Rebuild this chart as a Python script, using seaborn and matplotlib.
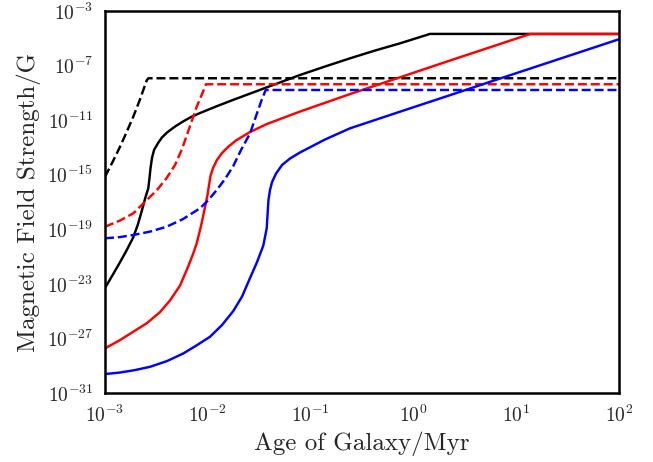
import numpy as np
import pandas as pd
import matplotlib
matplotlib.use("Agg")
import matplotlib.pyplot as plt
import matplotlib.ticker as mticker
import seaborn as sns

# curves, as log10(age / Myr) and log10(B / G)
black_solid_lx = [-3.0, -2.932, -2.864, -2.796, -2.725, -2.679, -2.64, -2.606, -2.579, -2.567, -2.557,
                  -2.543, -2.523, -2.484, -2.446, -2.397, -2.319, -2.241, -2.163, -2.076, -1.92, -1.755,
                  -1.424, -1.103, -0.86, -0.617, -0.374, -0.13, 0.161, 2.0]
black_solid_ly = [-23.31, -22.43, -21.55, -20.63, -19.59, -18.62, -17.59, -16.64, -16.0, -15.24, -14.51,
                  -13.78, -13.19, -12.68, -12.27, -11.91, -11.47, -11.1, -10.77, -10.48, -10.0, -9.52,
                  -8.59, -7.69, -7.07, -6.47, -5.9, -5.37, -4.68, -4.68]

black_dash_lx = [-3.0, -2.95, -2.9, -2.854, -2.8, -2.725, -2.66, -2.595, -2.578, 2.0]
black_dash_ly = [-15.15, -14.42, -13.67, -12.95, -12.05, -10.75, -9.49, -8.1, -7.93, -7.93]

red_solid_lx = [-3.0, -2.854, -2.725, -2.591, -2.465, -2.368, -2.27, -2.193, -2.144, -2.108, -2.066,
                -2.027, -2.003, -1.988, -1.974, -1.949, -1.911, -1.862, -1.804, -1.726, -1.589, -1.424,
                -1.103, -0.617, -0.13, 0.356, 1.134, 2.0]
red_solid_ly = [-27.73, -27.12, -26.51, -25.87, -25.07, -24.22, -23.12, -21.77, -20.82, -20.03, -18.76,
                -17.37, -16.49, -15.76, -15.1, -14.51, -13.92, -13.41, -12.97, -12.49, -11.87, -11.28,
                -10.37, -9.09, -7.86, -6.63, -4.69, -4.69]

red_dash_lx = [-3.0, -2.854, -2.725, -2.594, -2.494, -2.4, -2.319, -2.251, -2.173, -2.108, -2.056, -2.018, 2.0]
red_dash_ly = [-18.81, -18.36, -17.83, -16.86, -16.12, -15.24, -14.29, -13.12, -11.43, -10.02, -9.09, -8.37, -8.37]

blue_solid_lx = [-3.0, -2.854, -2.708, -2.562, -2.397, -2.238, -2.105, -1.979, -1.862, -1.752, -1.667,
                 -1.589, -1.521, -1.46, -1.427, -1.419, -1.41, -1.395, -1.375, -1.336, -1.278, -1.2,
                 -1.103, -0.86, -0.617, -0.13, 0.356, 0.842, 1.329, 2.0]
blue_solid_ly = [-29.61, -29.5, -29.32, -29.08, -28.66, -28.1, -27.49, -26.88, -26.02, -24.99, -23.93,
                 -22.57, -21.4, -20.19, -18.93, -17.96, -16.86, -16.12, -15.54, -14.91, -14.29, -13.81,
                 -13.37, -12.42, -11.6, -10.38, -9.17, -7.95, -6.74, -5.07]

blue_dash_lx = [-3.0, -2.854, -2.725, -2.562, -2.4, -2.241, -2.076, -1.998, -1.913, -1.833, -1.752,
                -1.677, -1.589, -1.524, -1.476, -1.437, 2.0]
blue_dash_ly = [-19.66, -19.57, -19.42, -19.17, -18.81, -18.25, -17.46, -16.89, -16.12, -15.32, -14.36,
                -13.19, -11.97, -10.55, -9.52, -8.79, -8.79]

curves = [
    (black_solid_lx, black_solid_ly, "k", "-"),
    (black_dash_lx, black_dash_ly, "k", "--"),
    (red_solid_lx, red_solid_ly, "r", "-"),
    (red_dash_lx, red_dash_ly, "r", "--"),
    (blue_solid_lx, blue_solid_ly, "b", "-"),
    (blue_dash_lx, blue_dash_ly, "b", "--"),
]

sns.set_style("white")
plt.rcParams["font.family"] = "serif"
plt.rcParams["font.serif"] = ["cmr10"]
plt.rcParams["mathtext.fontset"] = "cm"
plt.rcParams["axes.formatter.use_mathtext"] = True
plt.rcParams["axes.unicode_minus"] = False

fig = plt.figure(figsize=(6.53, 4.62), dpi=100)
ax = fig.add_axes([105 / 653, 1 - 393 / 462, 514 / 653, 382 / 462])

for lx, ly, col, ls in curves:
    df = pd.DataFrame({"age": 10.0 ** np.array(lx), "B": 10.0 ** np.array(ly)})
    sns.lineplot(data=df, x="age", y="B", color=col, linestyle=ls, linewidth=1.75, sort=False, ax=ax)

ax.set_xscale("log")
ax.set_yscale("log")
ax.set_xlim(1e-3, 1e2)
ax.set_ylim(1e-31, 1e-3)
ax.set_yticks([10.0 ** e for e in range(-31, -2, 4)])
ax.yaxis.set_minor_locator(mticker.NullLocator())
ax.xaxis.set_major_locator(mticker.LogLocator(base=10, numticks=10))
ax.xaxis.set_minor_locator(mticker.LogLocator(base=10, subs=np.arange(2, 10), numticks=20))

ax.tick_params(which="major", direction="out", length=5, width=1.5, labelsize=14)
ax.tick_params(which="minor", direction="in", length=3, width=1)
for s in ax.spines.values():
    s.set_linewidth(1.8)
    s.set_color("k")

ax.set_xlabel("Age of Galaxy/Myr", fontsize=18)
ax.set_ylabel("Magnetic Field Strength/G", fontsize=18)

fig.savefig("out.png", dpi=100)
